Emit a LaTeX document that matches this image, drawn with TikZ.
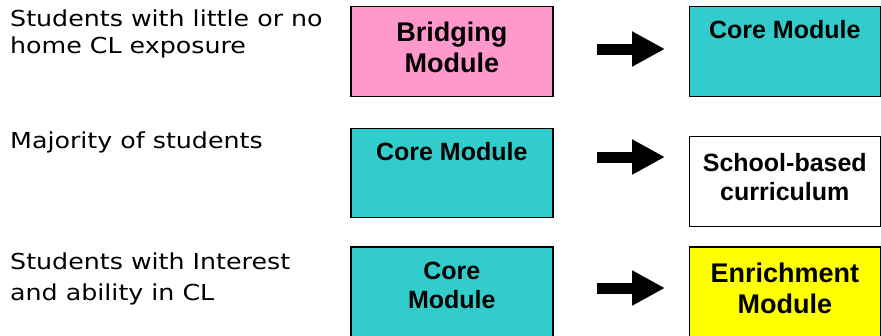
\documentclass[tikz,border=0pt]{standalone}
\usepackage{fontspec}
\usepackage{tikz}
\usetikzlibrary{arrows.meta}

\newfontfamily\sidefont[FakeStretch=1.15]{DejaVu Sans}
\newfontfamily\modfont[BoldFont={Liberation Sans Bold}]{Liberation Sans}

\definecolor{bridgepink}{HTML}{FF99CC}
\definecolor{coreteal}{HTML}{33CCCC}
\definecolor{enrichyellow}{HTML}{FFFF00}

\tikzset{
  modbox/.style={draw=black, line width=1.6pt, anchor=north west, inner sep=0pt,
    minimum width=202pt, minimum height=90pt},
  modtext/.style={inner sep=0pt, align=center,
    font=\modfont\bfseries\fontsize{25}{29}\selectfont},
  bigtext/.style={modtext, font=\modfont\bfseries\fontsize{27}{31}\selectfont},
  group/.style={anchor=base west, inner sep=0pt, align=left,
    font=\sidefont\fontsize{22}{27.3}\selectfont},
  fatarrow/.style={line width=11pt, -{Triangle[length=33pt,width=33pt]}},
}

\begin{document}
\begin{tikzpicture}[x=1pt, y=-1pt]
\useasboundingbox (0,0) rectangle (881,335);

% student groups (anchor sits on the last line)
\node[group] (few) at (10,53.3) {Students with little or no\\home CL exposure};
\node[group] (most) at (10,148) {Majority of students};
\node[group, font=\sidefont\fontsize{22}{31}\selectfont] (keen) at (10,300) {Students with Interest\\and ability in CL};

% first modules
\node[modbox, fill=bridgepink] (bridge) at (350,5.5) {};
\node[bigtext] (bridgetxt) at ([yshift=4pt]bridge.center) {Bridging\\Module};
\node[modbox, fill=coreteal, minimum height=89pt] (coreB) at (350,127.5) {};
\node[modtext, anchor=base] (coreBtxt) at ([yshift=-33pt]coreB.north) {Core Module};
\node[modbox, fill=coreteal, minimum height=92pt] (coreC) at (350,246) {};
\node[modtext, anchor=base] (coreCtxt) at ([yshift=-62pt]coreC.north) {Core\\Module};

% follow-up modules
\node[modbox, fill=coreteal, minimum width=191pt] (coreA) at (688.5,5.5) {};
\node[modtext, anchor=base] (coreAtxt) at ([yshift=-33pt]coreA.north) {Core Module};
\node[modbox, fill=white, minimum width=191pt] (school) at (688.5,135.5) {};
\node[modtext] (schooltxt) at ([yshift=4pt]school.center) {School-based\\curriculum};
\node[modbox, fill=enrichyellow, minimum width=191pt, minimum height=92pt] (enrich) at (688.5,246) {};
\node[bigtext] (enrichtxt) at ([yshift=4pt]enrich.center) {Enrichment\\Module};

% arrows between the columns
\coordinate (a1s) at (597,49);  \coordinate (a1e) at (665,49);
\coordinate (a2s) at (597,157); \coordinate (a2e) at (665,157);
\coordinate (a3s) at (597,288); \coordinate (a3e) at (665,288);
\draw[fatarrow] (a1s) -- (a1e);
\draw[fatarrow] (a2s) -- (a2e);
\draw[fatarrow] (a3s) -- (a3e);
\end{tikzpicture}
\end{document}
